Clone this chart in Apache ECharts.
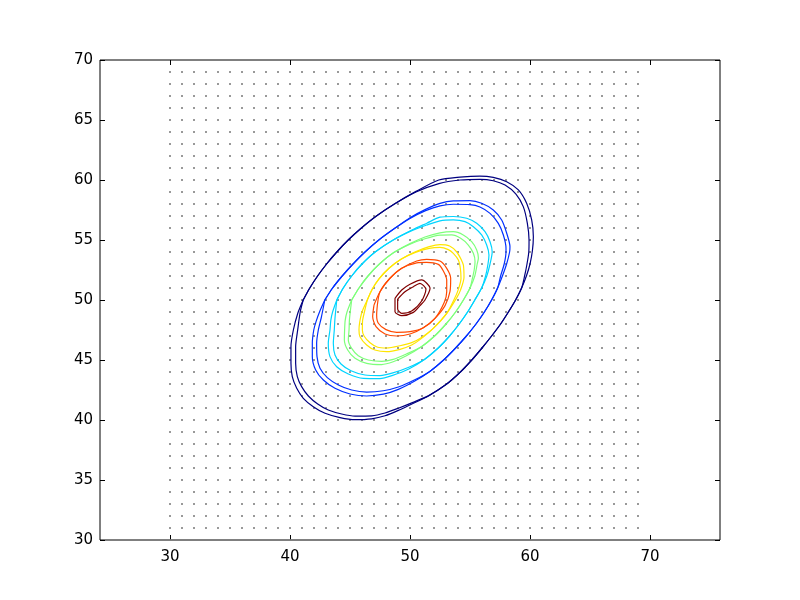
<!DOCTYPE html>
<html>
<head>
<meta charset="utf-8">
<script src="https://cdn.jsdelivr.net/npm/echarts@6/dist/echarts.min.js"></script>
<style>
html,body{margin:0;padding:0;background:#fff;}
#chart{width:800px;height:600px;}
</style>
</head>
<body>
<div id="chart"></div>
<script>
// ---- data ----
const xTickValues = [30, 40, 50, 60, 70];
const yTickValues = [30, 35, 40, 45, 50, 55, 60, 65, 70];
const gridXs = [30,31,32,33,34,35,36,37,38,39,40,41,42,43,44,45,46,47,48,49,50,51,52,53,54,55,56,57,58,59,60,61,62,63,64,65,66,67,68,69];
const gridYs = [30,31,32,33,34,35,36,37,38,39,40,41,42,43,44,45,46,47,48,49,50,51,52,53,54,55,56,57,58,59,60,61,62,63,64,65,66,67,68,69];

const levelColors = ['#000080', '#0030ff', '#00d4ff', '#7dff7a', '#ffe500', '#ff4a00', '#800000'];

const navyA = [[41.1,50],[41.65,51],[42.3,52],[43.05,53],[43.9,54],[44.85,55],[45.95,56],[47.2,57],[48.7,58],[50.5,59.05],
[52.4,60.0],[54.17,60.24],[55.83,60.33],[56.94,60.22],[58.06,59.86],[59.03,59.17],[59.72,58.06],[60.14,56.67],[60.28,55.28],[60.2,54.1],[60.0,53],[59.7,52],
[59.3,51],[58.8,50],[58.2,49],[57.55,48],[56.8,47],[56.0,46],[55.15,45],[54.2,44],[53.0,42.95],[51.6,42.05],[50.2,41.35],
[49.03,40.8],[47.92,40.35],[46.81,40.1],[45.42,40.03],[44.17,40.2],[42.92,40.56],[41.94,41.11],[41.11,41.81],[40.56,42.64],[40.19,43.61],[40.08,44.72],[40.08,46.11],[40.28,47.5],[40.65,48.9],[41.1,50]];
const navyB = [[41.1,50],[41.65,51],[42.3,52],[43.05,53],[43.9,54],[44.85,55],[45.95,56],[47.2,57],[48.7,58],[50.5,59.0],
[52.4,59.7],[54.17,60.0],[55.83,60.06],[56.94,59.94],[57.92,59.58],[58.83,58.83],[59.44,57.78],[59.78,56.39],[59.92,55.0],[59.9,54.0],[59.75,53],[59.55,52],
[59.3,51],[58.8,50],[58.2,49],[57.55,48],[56.8,47],[56.0,46],[55.15,45],[54.2,44],[53.0,42.95],[51.6,42.05],[50.2,41.45],
[49.03,40.98],[47.92,40.58],[46.81,40.35],[45.42,40.33],[44.31,40.5],[43.19,40.83],[42.31,41.33],[41.53,42.0],[40.97,42.78],[40.61,43.61],[40.47,44.72],[40.47,46.11],[40.64,47.5],[40.85,49],[41.1,50]];

const blueA = [[42.9,50],[43.55,51],[44.35,52],[45.25,53],[46.25,54],[47.4,55],[48.7,55.95],[50.0,56.85],[51.3,57.55],
[52.5,58.05],[53.61,58.26],[55,58.28],[55.97,58.06],[56.94,57.5],[57.64,56.67],[58.06,55.56],[58.33,54.44],[58.3,54.0],[58.05,53],[57.7,52],
[57.3,51],[56.8,50],[56.2,49],[55.5,48],[54.7,47],[53.8,46],[52.8,45],[51.65,44.05],[50.4,43.25],
[49.03,42.55],[47.78,42.15],[46.39,42.0],[45,42.17],[43.75,42.64],[42.78,43.33],[42.14,44.17],[41.86,45.28],[41.86,46.39],[41.98,47.5],[42.17,48.2],[42.5,49.1],[42.9,50]];
const blueB = [[42.9,50],[43.55,51],[44.35,52],[45.25,53],[46.25,54],[47.4,55],[48.7,55.95],[50.0,56.8],[51.3,57.45],
[52.5,57.85],[53.61,57.98],[55,57.95],[55.83,57.75],[56.67,57.22],[57.36,56.39],[57.78,55.42],[58,54.31],[58.0,54.0],[57.85,53],[57.55,52],
[57.3,51],[56.8,50],[56.2,49],[55.5,48],[54.7,47],[53.8,46],[52.8,45],[51.65,44.05],[50.4,43.35],
[49.03,42.75],[47.78,42.44],[46.39,42.33],[45.14,42.5],[44.03,42.92],[43.11,43.53],[42.5,44.31],[42.25,45.28],[42.22,46.39],[42.36,47.5],[42.6,48.5],[42.9,50]];

const cyanA = [[43.9,50],[44.44,51],[45.14,52],[46.0,53],[47.1,54],[48.6,55],[50.2,55.85],
[51.4,56.4],[52.5,56.9],[53.61,56.96],[54.72,56.81],[55.56,56.39],[56.25,55.69],[56.67,54.86],[56.85,54.0],[56.67,53],[56.4,52],
[55.97,51],[55.4,50],[54.8,49],[54.1,48],[53.3,47],[52.35,46],[51.2,45.05],[49.9,44.25],
[48.5,43.7],[47.5,43.45],[46.11,43.47],[44.86,43.83],[43.89,44.44],[43.33,45.28],[43.19,46.39],[43.33,47.5],[43.4,48.3],[43.55,49],[43.9,50]];
const cyanB = [[43.9,50],[44.44,51],[45.14,52],[46.0,53],[47.1,54],[48.6,55],[50.2,55.8],
[51.4,56.25],[52.5,56.6],[53.61,56.67],[54.58,56.53],[55.28,56.11],[55.97,55.42],[56.39,54.58],[56.58,53.75],[56.5,53],[56.3,52],
[55.97,51],[55.4,50],[54.8,49],[54.1,48],[53.3,47],[52.35,46],[51.2,45.05],[49.9,44.4],
[48.5,43.9],[47.5,43.7],[46.25,43.75],[45.08,44.11],[44.25,44.67],[43.75,45.42],[43.61,46.39],[43.69,47.5],[43.75,48.5],[43.9,50]];

const greenA = [[45.14,50],[45.75,51],[46.5,52],[47.45,53],[48.65,53.95],[50.0,54.7],
[51.25,55.25],[52.5,55.6],[53.61,55.69],[54.44,55.42],[55.14,54.86],[55.56,54.17],[55.7,53.5],[55.6,53],[55.4,52],
[55,51],[54.45,50],[53.8,49],[53.0,48],[52.05,47],[50.95,46.1],[49.7,45.35],
[48.6,44.85],[47.64,44.62],[46.39,44.72],[45.42,45.14],[44.81,45.83],[44.53,46.67],[44.55,47.5],[44.6,48.3],[44.75,49],[45.14,50]];
const greenB = [[45.14,50],[45.75,51],[46.5,52],[47.45,53],[48.65,53.95],[50.0,54.65],
[51.25,55.1],[52.5,55.4],[53.47,55.42],[54.22,55.14],[54.86,54.58],[55.28,53.89],[55.42,53.2],[55.35,52.5],[55.2,51.8],
[55,51],[54.45,50],[53.8,49],[53.0,48],[52.05,47],[50.95,46.1],[49.7,45.5],
[48.6,45.05],[47.64,44.88],[46.53,45],[45.69,45.36],[45.14,45.97],[44.86,46.67],[44.92,47.5],[44.95,48.3],[45.02,49],[45.14,50]];

const yellowA = [[46.44,50],[46.85,50.9],[47.45,51.8],[48.25,52.65],[49.25,53.4],[50.4,54.0],
[51.6,54.45],[52.5,54.62],[53.3,54.5],[53.9,54.0],[54.3,53.3],[54.45,52.9],[54.5,51.9],[54.2,50.8],
[53.9,50.2],[53.06,48.89],[51.94,47.64],[50.83,46.7],
[50.14,46.25],[49.17,45.89],[48.06,45.69],[47.08,45.83],[46.39,46.25],[45.83,46.94],[45.75,47.5],[45.8,48.1],[46.0,49],[46.44,50]];
const yellowB = [[46.44,50],[46.85,50.9],[47.45,51.8],[48.25,52.65],[49.25,53.4],[50.4,53.95],
[51.6,54.3],[52.5,54.38],[53.19,54.2],[53.61,53.89],[54.03,53.33],[54.2,52.6],[54.25,51.8],[54.0,50.8],
[53.75,50.2],[53.06,48.89],[51.94,47.64],[50.83,46.8],
[50.14,46.45],[49.17,46.19],[48.06,46.0],[47.31,46.06],[46.67,46.44],[46.17,47],[46.03,47.5],[46.05,48.3],[46.2,49],[46.44,50]];

const orangeA = [[47,49.58],[47.5,50.69],[48.33,51.81],[49.31,52.64],[50.56,53.25],[51.39,53.39],[52.5,53.25],[53.06,52.64],[53.39,51.81],[53.33,50.69],[52.92,49.53],[52.08,48.47],[51.11,47.69],[50,47.17],[48.89,47.0],[47.92,47.17],[47.17,47.78],[46.89,48.61],[47,49.58]];
const orangeB = [[47.28,49.58],[47.5,50.69],[48.33,51.81],[49.31,52.64],[50.56,53.1],[51.39,53.14],[52.36,52.97],[52.78,52.42],[53.06,51.67],[53.06,50.69],[52.85,49.8],[52.08,48.47],[51.11,47.69],[50,47.36],[48.89,47.31],[48,47.53],[47.36,48.06],[47.22,48.75],[47.28,49.58]];

const darkRedA = [[48.75,50.14],[49.31,50.83],[50,51.31],[50.97,51.67],[51.67,50.97],[51.25,50],[50.83,49.53],[50.28,48.97],[49.31,48.69],[48.75,49.03],[48.75,50.14]];
const darkRedB = [[48.97,50.08],[49.58,50.69],[50.28,51.11],[50.83,51.39],[51.33,50.89],[50.97,49.92],[50.14,49.08],[49.31,48.89],[48.97,49.25],[48.97,50.08]];

const contourLevels = [
  [navyA, navyB],
  [blueA, blueB],
  [cyanA, cyanB],
  [greenA, greenB],
  [yellowA, yellowB],
  [orangeA, orangeB],
  [darkRedA, darkRedB]
];

// ---- build chart ----
const dots = [];
gridXs.forEach(function (x) { gridYs.forEach(function (y) { dots.push([x, y]); }); });

const font = 'DejaVu Sans';
const xMin = 24.1666667, xMax = 75.8333333;

function xAx(pos, showLabel) {
  return {
    type: 'value', position: pos, min: xMin, max: xMax,
    splitLine: { show: false },
    axisLine: { show: false },
    axisTick: { show: true, inside: true, length: 5, customValues: xTickValues, lineStyle: { color: '#000', width: 1 } },
    axisLabel: { show: showLabel, customValues: xTickValues, color: '#000', fontFamily: font, fontSize: 15, margin: 10 }
  };
}
function yAx(pos, showLabel) {
  return {
    type: 'value', position: pos, min: 30, max: 70, interval: 5,
    splitLine: { show: false },
    axisLine: { show: false },
    axisTick: { show: true, inside: true, length: 5, lineStyle: { color: '#000', width: 1 } },
    axisLabel: { show: showLabel, color: '#000', fontFamily: font, fontSize: 15, margin: 7 }
  };
}

const series = [{
  type: 'scatter', data: dots, symbol: 'rect', symbolSize: 2,
  itemStyle: { color: '#7f7f7f' }, silent: true, z: 1
}];
contourLevels.forEach(function (pair, i) {
  pair.forEach(function (loop) {
    series.push({
      type: 'line', data: loop, showSymbol: false, smooth: 0.25,
      lineStyle: { color: levelColors[i], width: 1.2 }, silent: true, z: 2
    });
  });
});

const chart = echarts.init(document.getElementById('chart'), null, { renderer: 'canvas' });
chart.setOption({
  animation: false,
  backgroundColor: '#fff',
  grid: { left: 100, top: 60, width: 620, height: 480, show: true, borderColor: '#000', borderWidth: 1, backgroundColor: 'transparent', containLabel: false },
  xAxis: [xAx('bottom', true), xAx('top', false)],
  yAxis: [yAx('left', true), yAx('right', false)],
  series: series
});
</script>
</body>
</html>
